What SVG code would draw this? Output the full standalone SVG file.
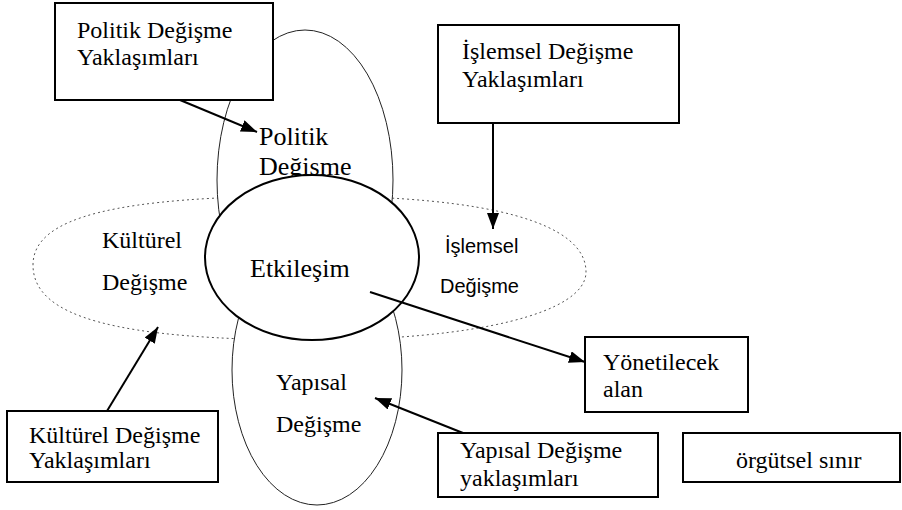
<svg xmlns="http://www.w3.org/2000/svg" width="902" height="510" viewBox="0 0 902 510">
<defs>
<marker id="arr" viewBox="0 0 16 12" markerWidth="16" markerHeight="12" refX="16" refY="6" orient="auto" markerUnits="userSpaceOnUse">
<path d="M0,0 L16,6 L0,12 z" fill="#000"/>
</marker>
<style>
.box{fill:#fff;stroke:#000;stroke-width:2}
.t{font-family:"Liberation Serif","Times New Roman",serif;font-size:24px;fill:#000}
.tl{font-family:"Liberation Serif","Times New Roman",serif;font-size:26px;fill:#000}
.ts{font-family:"Liberation Sans",Arial,sans-serif;font-size:20px;fill:#000}
.dot{fill:#fff;stroke:#555;stroke-width:1;stroke-dasharray:2 3}
.thin{fill:#fff;stroke:#222;stroke-width:1}
.conn{stroke:#000;stroke-width:2;fill:none;marker-end:url(#arr)}
</style>
</defs>
<rect width="902" height="510" fill="#fff"/>

<g id="islemsel-kulturel-ellipse">
<path class="dot" d="M33,265 C33,217 116,196 311,196 C490,196 586,223 586,272 C586,313 476,340 311,340 C116,340 33,317 33,265 Z"/>
<text class="t" x="102" y="248">Kültürel</text>
<text class="t" x="102" y="290">Değişme</text>
<text class="ts" x="445" y="253">İşlemsel</text>
<text class="ts" x="440" y="293">Değişme</text>
</g>

<g id="politik-ellipse">
<ellipse class="thin" cx="305" cy="180" rx="88" ry="150"/>
<text class="tl" x="259" y="145">Politik</text>
<text class="tl" x="259" y="175">Değişme</text>
</g>

<g id="yapisal-ellipse">
<ellipse class="thin" cx="317" cy="370" rx="85" ry="135"/>
<text class="t" x="276" y="390">Yapısal</text>
<text class="t" x="276" y="432">Değişme</text>
</g>

<g id="etkilesim">
<ellipse cx="312" cy="257.5" rx="107" ry="82.5" fill="#fff" stroke="#000" stroke-width="2"/>
<text class="tl" x="250" y="277">Etkileşim</text>
</g>

<g id="politik-yaklasim">
<rect class="box" x="55" y="3" width="218" height="97"/>
<text class="t" x="77" y="38">Politik Değişme</text>
<text class="t" x="77" y="65">Yaklaşımları</text>
</g>

<g id="islemsel-yaklasim">
<rect class="box" x="438" y="25" width="241" height="98"/>
<text class="t" x="462" y="59">İşlemsel Değişme</text>
<text class="t" x="462" y="87">Yaklaşımları</text>
</g>

<g id="kulturel-yaklasim">
<rect class="box" x="7" y="411" width="211" height="71"/>
<text class="t" x="29" y="443">Kültürel Değişme</text>
<text class="t" x="29" y="468">Yaklaşımları</text>
</g>

<g id="yapisal-yaklasim">
<rect class="box" x="438" y="433" width="220" height="64"/>
<text class="t" x="460" y="458">Yapısal Değişme</text>
<text class="t" x="460" y="486">yaklaşımları</text>
</g>

<g id="yonetilecek-alan">
<rect class="box" x="585" y="337" width="163" height="75"/>
<text class="t" x="603" y="370">Yönetilecek</text>
<text class="t" x="603" y="397">alan</text>
</g>

<g id="orgutsel-sinir">
<rect class="box" x="683" y="433" width="217" height="49"/>
<text class="t" x="736" y="468">örgütsel sınır</text>
</g>

<g id="connectors">
<line class="conn" x1="180" y1="100" x2="257" y2="132"/>
<line class="conn" x1="493" y1="123" x2="493" y2="229"/>
<line class="conn" x1="107" y1="411" x2="158" y2="327"/>
<line class="conn" x1="463" y1="433" x2="375" y2="398"/>
<line class="conn" x1="370" y1="292" x2="585" y2="362"/>
</g>
</svg>
